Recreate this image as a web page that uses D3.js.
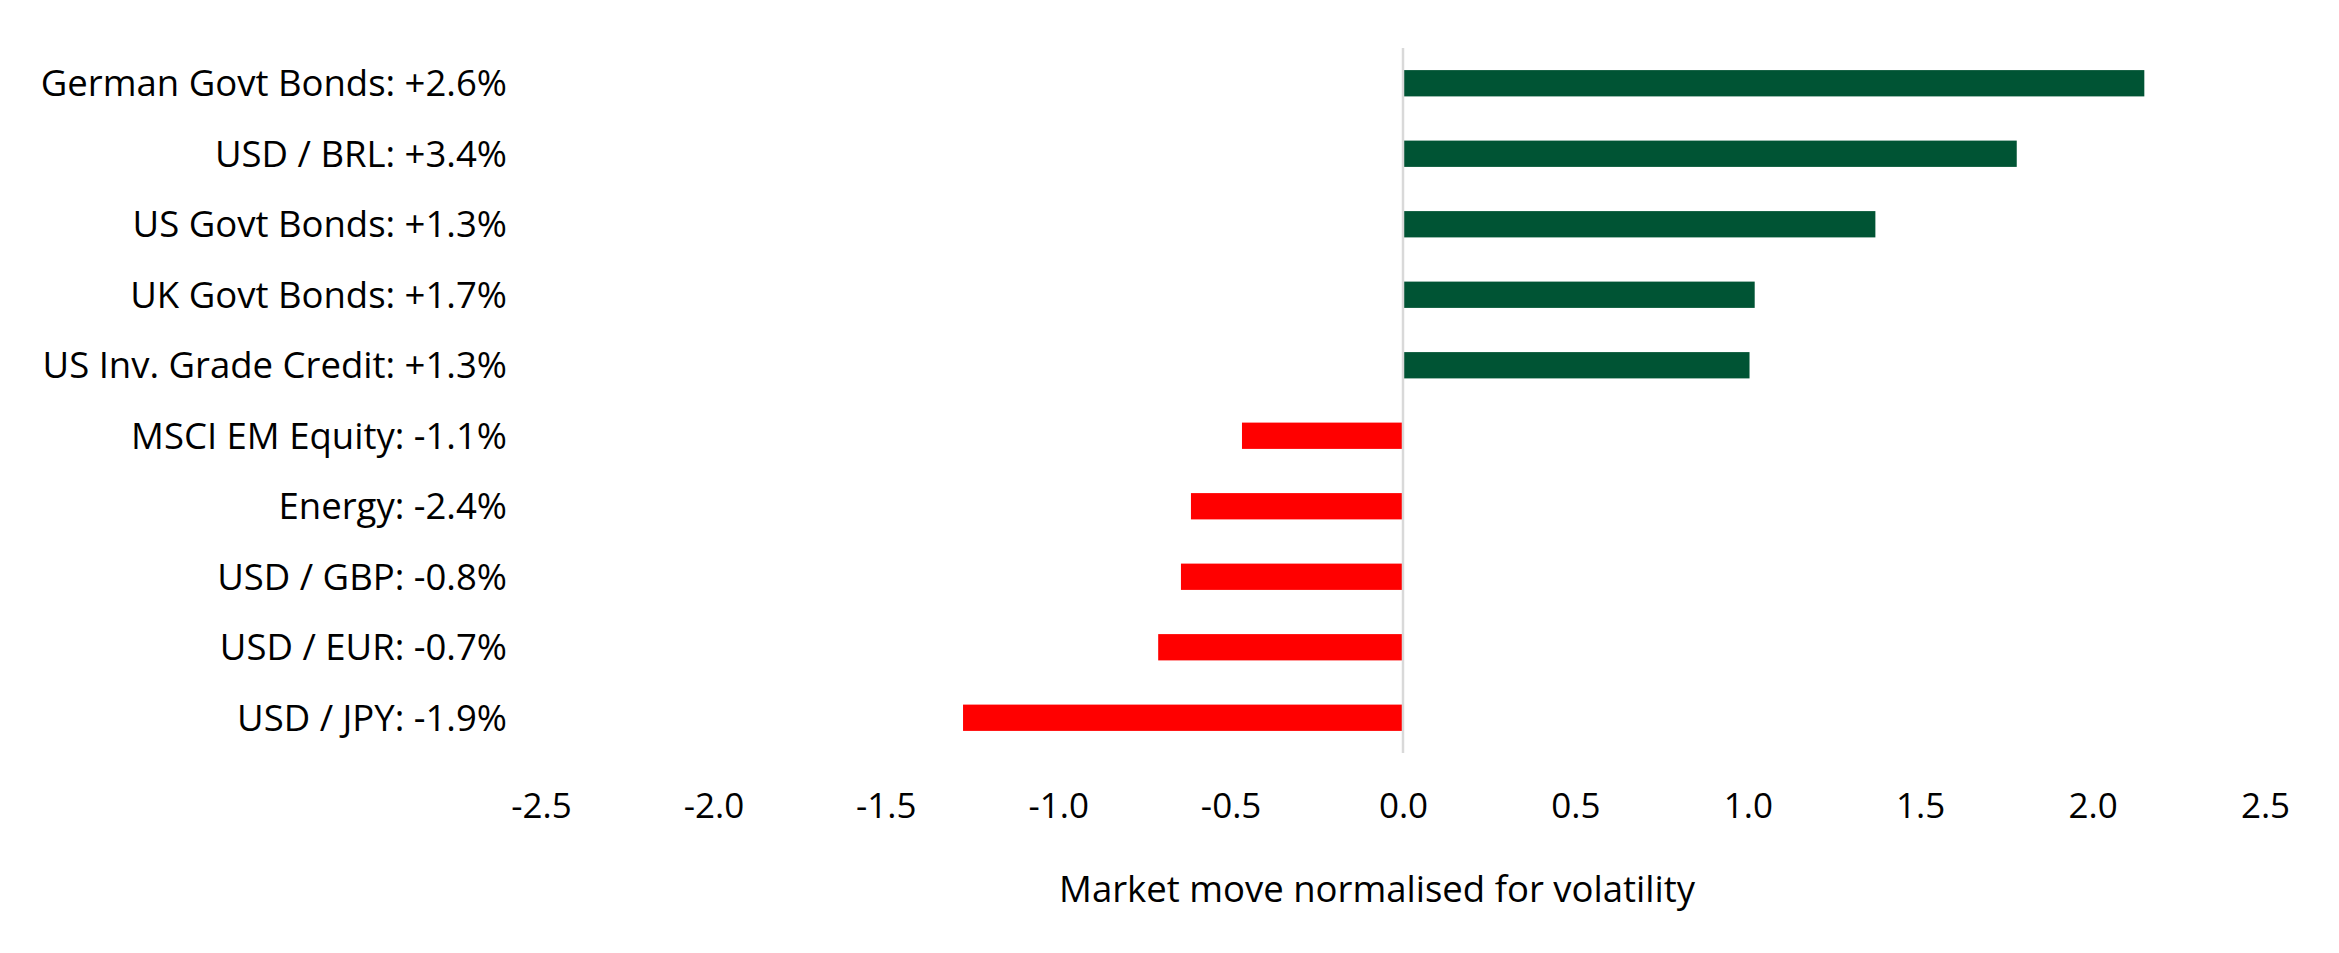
<!DOCTYPE html>
<html>
<head>
<meta charset="utf-8">
<script src="https://cdn.jsdelivr.net/npm/d3@7"></script>
<style>
  html, body { margin: 0; padding: 0; background: #fff; }
  svg text { font-family: "Open Sans", "Noto Sans", sans-serif; fill: #000; }
</style>
</head>
<body>
<svg id="chart" width="2339" height="953"></svg>
<script>
const categories = [
  "German Govt Bonds: +2.6%",
  "USD / BRL: +3.4%",
  "US Govt Bonds: +1.3%",
  "UK Govt Bonds: +1.7%",
  "US Inv. Grade Credit: +1.3%",
  "MSCI EM Equity: -1.1%",
  "Energy: -2.4%",
  "USD / GBP: -0.8%",
  "USD / EUR: -0.7%",
  "USD / JPY: -1.9%"
];
const values = [2.15, 1.78, 1.37, 1.02, 1.005, -0.467, -0.615, -0.644, -0.71, -1.276];
const tickValues = [-2.5, -2.0, -1.5, -1.0, -0.5, 0.0, 0.5, 1.0, 1.5, 2.0, 2.5];
const axisTitle = "Market move normalised for volatility";

const svg = d3.select("#chart");
const x = d3.scaleLinear().domain([-2.5, 2.5]).range([541, 2265]);
const y = d3.scaleBand().domain(categories).range([48, 753]).paddingInner(0.627).paddingOuter(0.3135);

// bars
svg.append("g").selectAll("rect").data(values).join("rect")
  .attr("x", d => Math.min(x(0), x(d)))
  .attr("width", d => Math.abs(x(d) - x(0)))
  .attr("y", (d, i) => y(categories[i]))
  .attr("height", y.bandwidth())
  .attr("fill", d => d >= 0 ? "#005434" : "#ff0000");

// zero line
svg.append("line")
  .attr("x1", x(0)).attr("x2", x(0))
  .attr("y1", 48).attr("y2", 753)
  .attr("stroke", "#d9d9d9").attr("stroke-width", 2.5);

// category labels
const yAxis = d3.axisLeft(y).tickSize(0).tickPadding(0);
const gy = svg.append("g").attr("transform", "translate(507,0)").call(yAxis);
gy.select(".domain").remove();
gy.selectAll("text").style("font-size", "36.5px").style("font-family", "'Open Sans', sans-serif").attr("dy", "0.35em");

// x axis
const xAxis = d3.axisBottom(x).tickValues(tickValues).tickSize(0).tickPadding(0).tickFormat(d3.format(".1f"));
const gx = svg.append("g").attr("transform", "translate(0,796)").call(xAxis);
gx.select(".domain").remove();
gx.selectAll("text").style("font-size", "35px").style("font-family", "'Open Sans', sans-serif").attr("dy", "0.35em").attr("y", 10)
  .text(d => d3.format(".1f")(d).replace("−", "-"));

// axis title
svg.append("text")
  .attr("x", 1377).attr("y", 889)
  .attr("text-anchor", "middle").attr("dy", "0.35em")
  .style("font-size", "36.5px")
  .text(axisTitle);
</script>
</body>
</html>
